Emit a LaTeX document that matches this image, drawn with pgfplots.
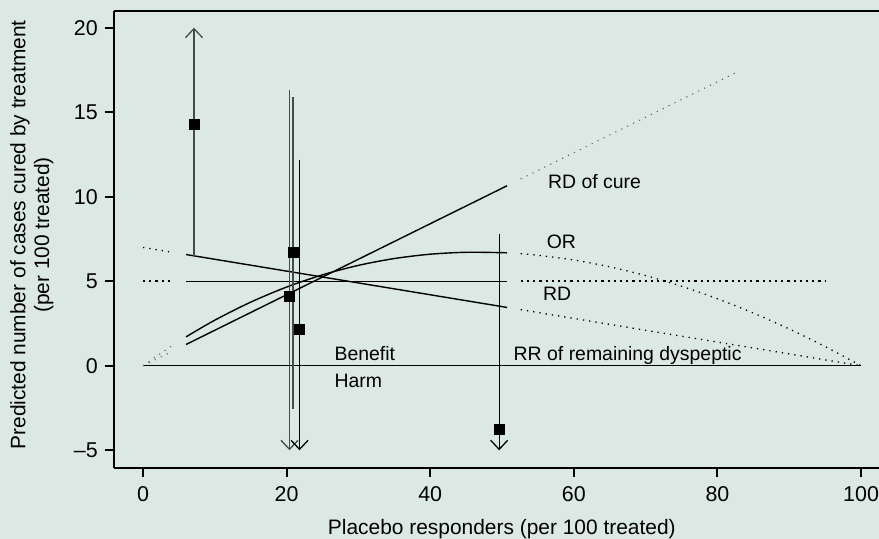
\documentclass[border=0pt]{standalone}
\usepackage{pgfplots}
\pgfplotsset{compat=1.18}
\usepackage{fontspec}
\setmainfont{Liberation Sans}
\usetikzlibrary{arrows.meta}
\definecolor{bg}{HTML}{DCE8E3}
\definecolor{cigray}{HTML}{464B49}
\definecolor{dotgray}{HTML}{5A5F5D}
\pagecolor{bg}

\tikzset{
  model/.style={black, line width=1.4bp},
  extrap/.style={black, line width=1.3bp, dash pattern=on 1.3bp off 5bp},
  extrapgray/.style={dotgray, line width=1.1bp, dash pattern=on 1.1bp off 5.5bp},
  extrapbold/.style={black, line width=2.2bp, dash pattern=on 2.2bp off 4bp},
  ci/.style={cigray, line width=1.6bp},
  cithin/.style={black, line width=1.2bp},
  barb/.style={-{Straight Barb[length=9bp,width=17bp,line width=1.3bp]}},
  inlabel/.style={anchor=base west, inner sep=0pt, font=\fontsize{19.5}{23}\selectfont},
}

\begin{document}
\begin{tikzpicture}
\begin{axis}[
  name=ax,
  scale only axis,
  width=765bp, height=456bp,
  xmin=-4.04, xmax=102.5,
  ymin=-6.02, ymax=20.96,
  axis x line*=bottom, axis y line*=left,
  axis line style={line width=2bp},
  tick align=outside,
  major tick length=9bp,
  every tick/.style={black, line width=2bp},
  xtick={0,20,...,100},
  ytick={-5,0,5,10,15,20},
  yticklabels={–5,0,5,10,15,20},
  /pgf/number format/assume math mode=true,
  tick label style={font=\fontsize{21.5}{26}\selectfont},
  xticklabel style={inner sep=0pt, yshift=-10bp},
  yticklabel style={inner sep=0pt, xshift=-7bp},
  xlabel={Placebo responders (per 100 treated)},
  ylabel={Predicted number of cases cured by treatment\\(per 100 treated)},
  label style={font=\fontsize{21}{24}\selectfont},
  xlabel style={at={(rel axis cs:0.507,-0.148)}, anchor=base, inner sep=0pt},
  ylabel style={at={(rel axis cs:-0.1360,0.51)}, anchor=north, align=center, inner sep=0pt},
  clip=false,
]
% zero line: benefit above, harm below
\addplot[model] coordinates {(0,0) (100,0)};

% risk difference of cure (proportional to placebo response)
\addplot[extrapgray] coordinates {(0,0) (4,0.84)};
\addplot[model] coordinates {(6,1.26) (50.7,10.65)};
\addplot[extrapgray] coordinates {(52.6,11.05) (82.5,17.33)};

% constant odds ratio
\addplot[extrapgray] coordinates {(0,0) (2,0.60) (4,1.17)};
\addplot[model, smooth] coordinates {
  (6,1.711) (10,2.698) (15,3.765) (20,4.656) (25,5.378) (30,5.939)
  (35,6.344) (40,6.600) (45,6.714) (50,6.691) (50.7,6.677)};
\addplot[extrap, smooth] coordinates {
  (52.6,6.627) (55,6.537) (60,6.256) (65,5.854) (70,5.335) (75,4.704)
  (80,3.964) (85,3.120) (90,2.176) (95,1.135) (100,0)};

% constant risk difference
\addplot[extrapbold] coordinates {(0,5) (4,5)};
\addplot[model] coordinates {(6,5) (50.7,5)};
\addplot[extrapbold] coordinates {(52.6,5) (95,5)};

% constant relative risk of remaining dyspeptic
\addplot[extrap] coordinates {(0,7) (4,6.72)};
\addplot[model] coordinates {(6,6.58) (50.7,3.451)};
\addplot[extrap] coordinates {(52.6,3.318) (100,0)};

% trial confidence intervals
\addplot[ci, barb] coordinates {(7.1,6.5) (7.1,20)};
\addplot[ci, barb] coordinates {(20.4,16.33) (20.4,-5)};
\addplot[ci] coordinates {(20.9,15.9) (20.9,-2.55)};
\addplot[cithin, barb] coordinates {(21.8,12.19) (21.8,-5)};
\addplot[cithin, barb] coordinates {(49.6,7.79) (49.6,-5)};

% trial point estimates
\addplot[only marks, mark=square*, mark size=5bp, black] coordinates {
  (7.1,14.3) (20.4,4.1) (20.9,6.7) (21.8,2.19) (49.6,-3.73)};

% top frame line
\draw[line width=2bp] (rel axis cs:0,1) -- (rel axis cs:1,1);

\node[inlabel] at (axis cs:56.4,10.51) {RD of cure};
\node[inlabel] at (axis cs:56.2,6.92) {OR};
\node[inlabel] at (axis cs:55.7,3.87) {RD};
\node[inlabel] at (axis cs:51.6,0.32) {RR of remaining dyspeptic};
\node[inlabel] at (axis cs:26.65,0.31) {Benefit};
\node[inlabel] at (axis cs:26.65,-1.28) {Harm};
\end{axis}
\pgfresetboundingbox
\path[use as bounding box] ([xshift=-114bp,yshift=-71.5bp]ax.south west)
  rectangle ([yshift=11.5bp]ax.north east);
\end{tikzpicture}
\end{document}
